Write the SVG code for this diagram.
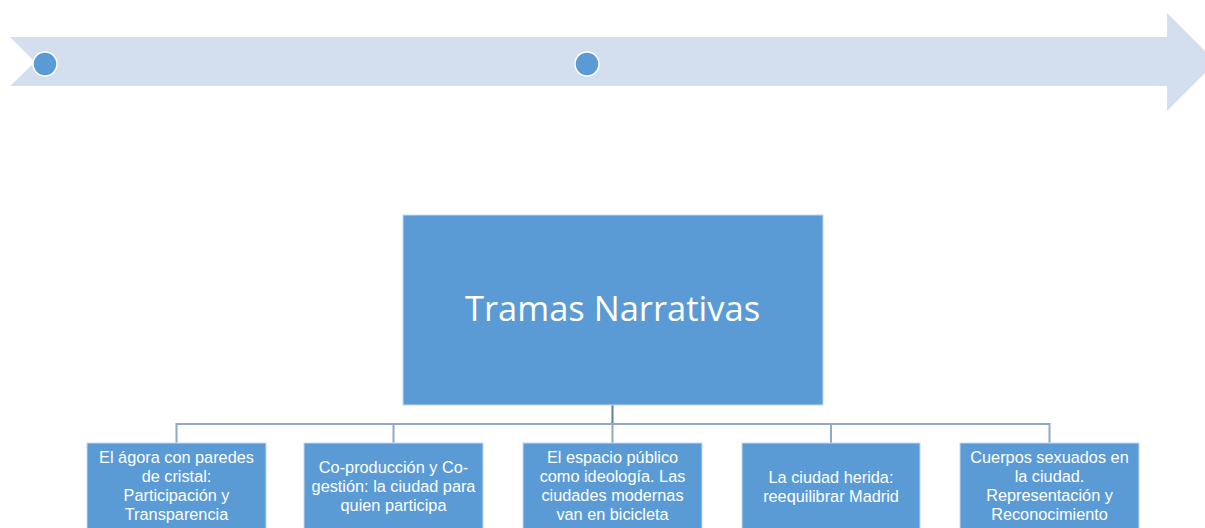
<svg xmlns="http://www.w3.org/2000/svg" width="1205" height="528" viewBox="0 0 1205 528">
<style>
.box{fill:#5B9BD5;stroke:#C5D9EE;stroke-width:1}
.lbl{font-family:"Liberation Sans",Arial,sans-serif;font-size:16.3px;fill:#FFFFFF;text-anchor:middle}
.title{font-family:"Open Sans","Liberation Sans",Arial,sans-serif;font-size:34.5px;fill:#FFFFFF;text-anchor:middle}
.conn{fill:none;stroke:#8FA9C6;stroke-width:2}
.dot{fill:#5B9BD5;stroke:#FFFFFF;stroke-width:1.5}
</style>
<rect width="1205" height="528" fill="#FFFFFF"/>
<g id="timeline">
<path d="M10,37 L1167,37 L1167,13 L1216,62 L1167,111 L1167,86 L10,86 L35,62 Z" fill="#D3DEEE"/>
<circle class="dot" cx="45" cy="64" r="12"/>
<circle class="dot" cx="587" cy="64" r="12"/>
</g>
<g id="connectors">
<line class="conn" x1="612.5" y1="405" x2="612.5" y2="424" style="stroke:#5E7F9F"/>
<path class="conn" d="M176.5,443 V424 H1049.5 V443"/>
<line class="conn" x1="393.5" y1="424" x2="393.5" y2="443"/>
<line class="conn" x1="612.5" y1="424" x2="612.5" y2="443"/>
<line class="conn" x1="831" y1="424" x2="831" y2="443"/>
</g>
<g id="root">
<rect class="box" x="403" y="215" width="420" height="190"/>
<text class="title" x="612.5" y="321">Tramas Narrativas</text>
</g>
<g id="n1">
<rect class="box" x="87" y="443" width="179" height="92"/>
<text class="lbl"><tspan x="176.5" y="463">El ágora con paredes</tspan><tspan x="176.5" y="482">de cristal:</tspan><tspan x="176.5" y="501">Participación y</tspan><tspan x="176.5" y="520">Transparencia</tspan></text>
</g>
<g id="n2">
<rect class="box" x="304" y="443" width="179" height="92"/>
<text class="lbl"><tspan x="393.5" y="473">Co-producción y Co-</tspan><tspan x="393.5" y="492">gestión: la ciudad para</tspan><tspan x="393.5" y="511">quien participa</tspan></text>
</g>
<g id="n3">
<rect class="box" x="523" y="443" width="179" height="92"/>
<text class="lbl"><tspan x="612.5" y="463">El espacio público</tspan><tspan x="612.5" y="482">como ideología. Las</tspan><tspan x="612.5" y="501">ciudades modernas</tspan><tspan x="612.5" y="520">van en bicicleta</tspan></text>
</g>
<g id="n4">
<rect class="box" x="742" y="443" width="178" height="92"/>
<text class="lbl"><tspan x="831" y="483">La ciudad herida:</tspan><tspan x="831" y="502">reequilibrar Madrid</tspan></text>
</g>
<g id="n5">
<rect class="box" x="960" y="443" width="179" height="92"/>
<text class="lbl"><tspan x="1049.5" y="463">Cuerpos sexuados en</tspan><tspan x="1049.5" y="482">la ciudad.</tspan><tspan x="1049.5" y="501">Representación y</tspan><tspan x="1049.5" y="520">Reconocimiento</tspan></text>
</g>
</svg>
